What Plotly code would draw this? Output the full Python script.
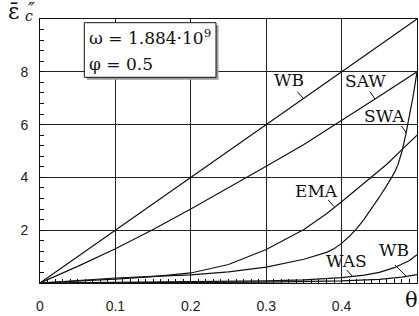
import plotly.graph_objects as go

# ---------------- data ----------------
theta_wb = [0, 0.1, 0.2, 0.3, 0.4, 0.5]
wb_upper = [0, 2, 4, 6, 8, 10]

theta_saw = [0, 0.05, 0.1, 0.15, 0.2, 0.25, 0.3, 0.35, 0.4, 0.45, 0.5]
saw = [0, 0.63, 1.3, 2.03, 2.8, 3.6, 4.42, 5.25, 6.15, 7.07, 8.0]

theta_ema = [0, 0.05, 0.1, 0.15, 0.2, 0.25, 0.3, 0.35, 0.38, 0.4, 0.42, 0.44, 0.46, 0.48, 0.5]
ema = [0, 0.07, 0.15, 0.24, 0.38, 0.7, 1.27, 2.03, 2.62, 3.08, 3.55, 4.02, 4.5, 5.05, 5.6]

theta_swa = [0, 0.05, 0.1, 0.15, 0.2, 0.25, 0.3, 0.35, 0.37, 0.38, 0.39, 0.4, 0.41,
             0.42, 0.43, 0.44, 0.45, 0.46, 0.47, 0.475, 0.48, 0.485, 0.49, 0.495, 0.5]
swa = [0, 0.09, 0.19, 0.25, 0.31, 0.42, 0.6, 0.9, 1.06, 1.16, 1.3, 1.5, 1.76,
       2.06, 2.42, 2.82, 3.25, 3.7, 4.18, 4.5, 4.98, 5.6, 6.3, 7.1, 8.0]

theta_was = [0, 0.1, 0.2, 0.3, 0.35, 0.4, 0.43, 0.45, 0.47, 0.48, 0.49, 0.5]
was = [0, 0.02, 0.04, 0.08, 0.12, 0.2, 0.3, 0.4, 0.58, 0.7, 0.85, 1.07]

theta_wbl = [0, 0.1, 0.2, 0.3, 0.4, 0.45, 0.48, 0.5]
wb_lower = [0, 0.005, 0.015, 0.03, 0.08, 0.14, 0.22, 0.32]

x_tickvals = [0, 0.1, 0.2, 0.3, 0.4]
x_ticktext = ["0", "0.1", "0.2", "0.3", "0.4"]
y_tickvals = [2, 4, 6, 8]
y_ticktext = ["2", "4", "6", "8"]

# ---------------- layout helpers ----------------
W, H = 419, 316
ML, MR, MT, MB = 40, 2, 19, 33
PW, PH = W - ML - MR, H - MT - MB


def px(x):
    return (x - ML) / PW


def py(y):
    return (H - MB - y) / PH


SERIF = "DejaVu Serif"
SANS = "Liberation Sans, Arial, sans-serif"
INK = "#111"

fig = go.Figure()
for xs, ys in [(theta_wb, wb_upper), (theta_saw, saw), (theta_ema, ema),
               (theta_swa, swa), (theta_was, was), (theta_wbl, wb_lower)]:
    fig.add_trace(go.Scatter(x=xs, y=ys, mode="lines",
                             line=dict(color=INK, width=1.2),
                             showlegend=False, hoverinfo="skip"))

shapes = []
# legend box shadow + box
shapes.append(dict(type="rect", xref="paper", yref="paper",
                   x0=px(86.8), x1=px(218.5), y0=py(79.8), y1=py(25.2),
                   fillcolor="#9a9a9a", line=dict(width=0), layer="above"))
shapes.append(dict(type="rect", xref="paper", yref="paper",
                   x0=px(84.3), x1=px(216), y0=py(77.3), y1=py(22.7),
                   fillcolor="white", line=dict(color=INK, width=1), layer="above"))

# leader lines for curve labels
leaders = [((297.3, 91.7), (303.3, 98.3)),
           ((370, 91.7), (375, 99)),
           ((401.5, 126), (406.5, 133)),
           ((328.3, 200), (334, 206.7)),
           ((346.7, 270), (352.7, 276.7)),
           ((395, 265), (406.7, 276.7))]
for (a, b) in leaders:
    shapes.append(dict(type="line", xref="paper", yref="paper",
                       x0=px(a[0]), y0=py(a[1]), x1=px(b[0]), y1=py(b[1]),
                       line=dict(color=INK, width=1)))

annotations = []
labels = [("WB", 289, 80.5), ("SAW", 365, 81), ("SWA", 384, 116),
          ("EMA", 316.7, 191), ("WAS", 346, 261), ("WB", 394, 250)]
for t, x, y in labels:
    annotations.append(dict(text=t, x=px(x), y=py(y), xref="paper", yref="paper",
                            showarrow=False, xanchor="center", yanchor="middle",
                            font=dict(family=SERIF, size=17, color=INK)))

annotations.append(dict(text="ω = 1.884·10<sup>9</sup>", x=px(87), y=py(37),
                        xref="paper", yref="paper", showarrow=False,
                        xanchor="left", yanchor="middle",
                        font=dict(family=SERIF, size=17, color=INK)))
annotations.append(dict(text="φ = 0.5", x=px(87), y=py(64),
                        xref="paper", yref="paper", showarrow=False,
                        xanchor="left", yanchor="middle",
                        font=dict(family=SERIF, size=17, color=INK)))

# axis titles
annotations.append(dict(text="ε\u0304", x=px(6), y=py(12), xref="paper", yref="paper",
                        showarrow=False, xanchor="left", yanchor="middle",
                        font=dict(family=SERIF, size=22, color=INK)))
annotations.append(dict(text="<i>c</i>", x=px(23), y=py(16.5), xref="paper", yref="paper",
                        showarrow=False, xanchor="left", yanchor="middle",
                        font=dict(family=SERIF, size=14, color=INK)))
annotations.append(dict(text="<i>″</i>", x=px(26), y=py(10), xref="paper", yref="paper",
                        showarrow=False, xanchor="left", yanchor="middle",
                        font=dict(family=SERIF, size=18, color=INK)))
annotations.append(dict(text="θ", x=px(411), y=py(300), xref="paper", yref="paper",
                        showarrow=False, xanchor="center", yanchor="middle",
                        font=dict(family=SERIF, size=21, color=INK)))

axis_common = dict(showline=True, linecolor=INK, linewidth=1, mirror=True,
                   showgrid=True, gridcolor="#222", gridwidth=1,
                   zeroline=False, ticks="inside", ticklen=4, tickcolor=INK,
                   tickfont=dict(family=SANS, size=14, color="#222"))

fig.update_layout(
    width=W, height=H, margin=dict(l=ML, r=MR, t=MT, b=MB),
    paper_bgcolor="white", plot_bgcolor="white",
    xaxis=dict(range=[0, 0.5], tickvals=x_tickvals, ticktext=x_ticktext,
               ticklabelstandoff=10,
               minor=dict(dtick=0.01, tick0=0, ticks="inside", ticklen=4,
                          tickcolor=INK, showgrid=False),
               **axis_common),
    yaxis=dict(range=[0, 10], tickvals=y_tickvals, ticktext=y_ticktext,
               ticklabelstandoff=8,
               minor=dict(dtick=0.4, tick0=0, ticks="inside", ticklen=4,
                          tickcolor=INK, showgrid=False),
               **axis_common),
    shapes=shapes, annotations=annotations,
)

fig.write_html("out.html", config={"displayModeBar": False},
               post_script="document.body.style.margin='0';document.body.style.overflow='hidden';")
